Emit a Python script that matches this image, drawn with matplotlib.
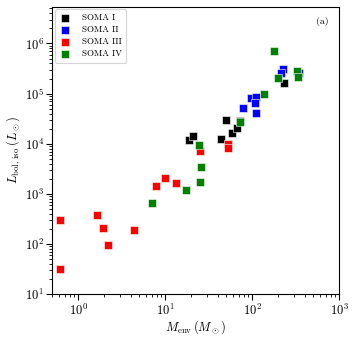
import matplotlib
matplotlib.use("Agg")
import matplotlib.pyplot as plt

plt.rcParams['mathtext.fontset'] = 'cm'
plt.rcParams['font.family'] = ['cmr10', 'DejaVu Serif']
plt.rcParams['axes.formatter.use_mathtext'] = True

soma1_m = [18.7, 21.0, 49.8, 43.3, 57.9, 67.2, 72.2, 233]
soma1_l = [11900, 14500, 29900, 12500, 16700, 20400, 28900, 165000]

soma2_m = [77.5, 95.8, 110, 107, 110, 227, 212, 344]
soma2_l = [52500, 82000, 86000, 64300, 41700, 309000, 254000, 262000]

soma3_m = [0.621, 0.621, 1.64, 1.94, 2.21, 4.36, 7.88, 10.0, 13.3, 25.0, 52.1, 53.0]
soma3_l = [309, 32.4, 377, 211, 98, 193, 1420, 2110, 1660, 7200, 9770, 8150]

soma4_m = [6.96, 17.3, 25.0, 25.9, 24.4, 73.0, 136, 176, 199, 324, 338]
soma4_l = [662, 1220, 1730, 3490, 9490, 26900, 97000, 705000, 208000, 282000, 212000]

series = [
    ("SOMA I", soma1_m, soma1_l, "black"),
    ("SOMA II", soma2_m, soma2_l, "blue"),
    ("SOMA III", soma3_m, soma3_l, "red"),
    ("SOMA IV", soma4_m, soma4_l, "green"),
]

fig = plt.figure(figsize=(3.57, 3.37), dpi=100)
ax = fig.add_axes([0.1457, 0.1266, 0.8048, 0.8534])

for name, m, l, c in series:
    ax.scatter(m, l, marker='s', s=30, c=c, edgecolors='white', linewidths=0.4, label=name)

ax.set_xscale('log')
ax.set_yscale('log')
ax.set_xlim(0.5, 1000)
ax.set_ylim(10, 5.4e6)

ax.tick_params(which='major', direction='out', length=4, width=0.8, labelsize=9,
               pad=2, top=False, right=False)
ax.tick_params(which='minor', direction='out', length=2, width=0.6,
               top=False, right=False)

ax.set_xlabel(r'$M_{\rm env}\,(M_\odot)$', fontsize=9, labelpad=0)
ax.set_ylabel(r'$L_{\rm bol,\,iso}\,(L_\odot)$', fontsize=9, labelpad=1)

ax.text(0.94, 0.948, '(a)', transform=ax.transAxes, fontsize=7, ha='center', va='center')

leg = ax.legend(loc='upper left', fontsize=6.5, frameon=True, borderaxespad=0.3,
                handletextpad=1.3, labelspacing=0.4, markerscale=1.0,
                borderpad=0.5, handlelength=1.2)
leg.get_frame().set_edgecolor('#cccccc')
leg.get_frame().set_linewidth(0.8)

for sp in ax.spines.values():
    sp.set_linewidth(0.8)

fig.savefig('out.png', dpi=100)
